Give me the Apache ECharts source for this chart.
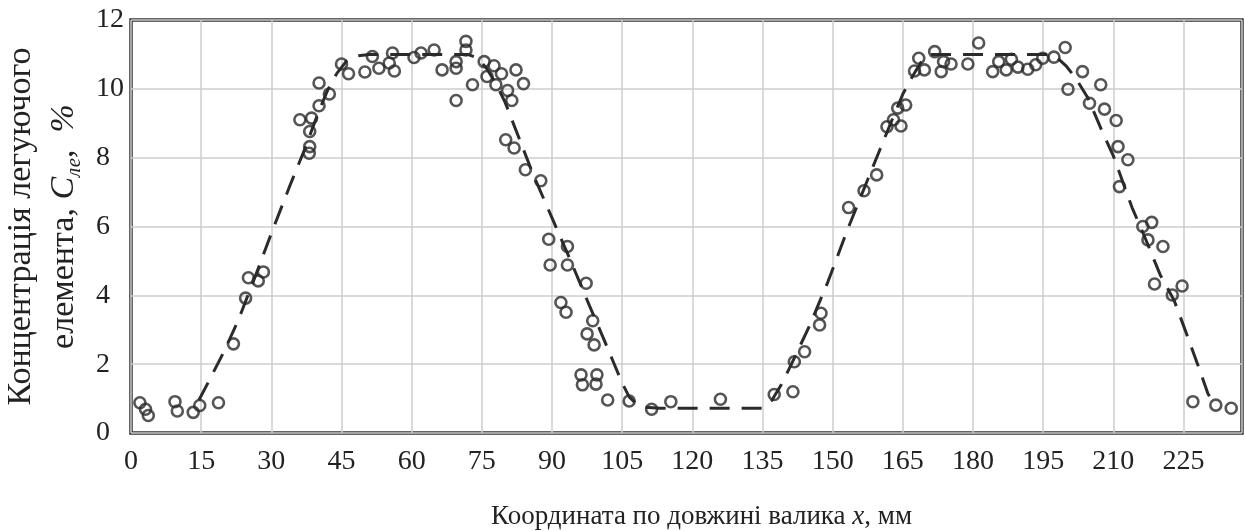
<!DOCTYPE html>
<html>
<head>
<meta charset="utf-8">
<script src="https://cdn.jsdelivr.net/npm/echarts@6/dist/echarts.min.js"></script>
<style>
  html, body { margin: 0; padding: 0; background: #fff; }
  #chart { width: 1245px; height: 531px; }
</style>
</head>
<body>
<div id="chart"></div>
<script>
// measured points, x in mm, y in %
var pointX = [1.9, 3.1, 3.7, 9.4, 9.9, 13.3, 14.7, 18.7,
    21.9, 24.5, 25.1, 27.2, 28.3,
    36.1, 38.6, 38.2, 38.2, 38.1, 40.2, 40.2, 42.4,
    45.0, 46.5, 50.0, 51.6, 53.0, 55.2, 55.9, 56.3, 60.5, 62.0, 64.8, 66.5, 69.5, 69.5, 69.5,
    71.6, 71.6, 73.0, 75.5, 76.1, 77.6, 78.0, 79.2, 80.5, 81.4, 82.3, 83.9,
    80.1, 81.9, 84.3, 87.6,
    89.3, 89.6, 93.3, 93.3, 97.3, 91.9, 93.0, 98.7, 97.5, 99.0, 96.2, 96.5, 99.6, 99.4,
    101.9, 106.5, 111.3, 115.4, 126.0,
    137.5, 141.5, 141.8, 144.0, 147.2, 147.5, 153.4, 156.7, 159.4,
    161.6, 163.0, 164.6, 163.9, 165.6,
    167.5, 169.6, 168.4, 171.8, 173.2, 173.7, 175.3, 178.9, 181.2, 184.2, 185.5, 187.1,
    188.2, 189.6, 191.7, 193.4, 194.9, 197.3, 199.7,
    200.3, 203.4, 204.9, 207.3, 208.1, 210.6, 211.0, 213.1, 211.3, 218.2, 216.3, 217.4,
    220.6, 218.8, 224.7, 222.6, 227.0, 231.9, 235.2];
var pointY = [0.88, 0.69, 0.51, 0.91, 0.64, 0.60, 0.80, 0.88,
    2.59, 3.92, 4.51, 4.42, 4.68,
    9.10, 9.15, 8.76, 8.32, 8.13, 10.17, 9.51, 9.85,
    10.72, 10.44, 10.49, 10.94, 10.60, 10.75, 11.04, 10.52, 10.91, 11.04, 11.13, 10.55, 10.79, 10.60, 9.66,
    11.38, 11.13, 10.12, 10.79, 10.36, 10.67, 10.12, 10.44, 9.95, 9.66, 10.55, 10.15,
    8.52, 8.28, 7.65, 7.33,
    5.63, 4.88, 5.42, 4.88, 4.35, 3.79, 3.51, 3.26, 2.88, 2.56, 1.69, 1.40, 1.69, 1.42,
    0.96, 0.93, 0.69, 0.91, 0.98,
    1.12, 1.20, 2.07, 2.36, 3.14, 3.48, 6.55, 7.04, 7.50,
    8.90, 9.10, 8.92, 9.44, 9.53,
    10.52, 10.55, 10.89, 11.08, 10.50, 10.79, 10.72, 10.72, 11.33, 10.50, 10.79, 10.55,
    10.86, 10.63, 10.57, 10.70, 10.89, 10.92, 11.20,
    9.99, 10.50, 9.58, 10.12, 9.41, 9.08, 8.32, 7.94, 7.16, 6.12, 6.00, 5.61,
    5.42, 4.33, 4.27, 4.01, 0.91, 0.81, 0.72];

// dashed approximation curve
var fitX = [14.5, 17, 20, 23, 26, 30, 34, 37, 40, 42, 44, 46, 48, 51, 72, 74, 76, 78, 80, 83, 86, 90, 94, 98,
    101, 103, 105, 106.5, 108, 110, 113, 135, 137, 139, 141, 145, 149, 153, 157, 160, 163, 165, 167, 169,
    171, 196, 198, 200, 202, 204.5, 207.5, 210, 212, 214, 217, 220, 223, 225.6, 228.4, 230.2, 231.5];
var fitY = [0.95, 1.6, 2.4, 3.3, 4.35, 5.8, 7.2, 8.2, 9.3, 9.95, 10.45, 10.8, 10.95, 11.0, 11.0, 10.9, 10.6, 10.15, 9.6, 8.55, 7.5, 6.25, 5.0, 3.7,
    2.75, 2.1, 1.45, 1.05, 0.85, 0.75, 0.72, 0.72, 0.95, 1.4, 1.95, 3.1, 4.4, 5.85, 7.2, 8.2, 9.2, 9.85, 10.35, 10.8,
    11.0, 11.0, 10.9, 10.65, 10.3, 9.75, 8.8, 8.05, 7.3, 6.55, 5.6, 4.6, 3.85, 2.9, 1.85, 1.15, 0.85];

var font = 'Liberation Serif';
var ink = '#2b2b2b';

var chart = echarts.init(document.getElementById('chart'));
chart.setOption({
    animation: false,
    grid: {
        left: 131, right: 3, top: 20, bottom: 98,
        containLabel: false,
        outerBoundsMode: 'none',
        show: true,
        borderColor: '#333',
        borderWidth: 3.5
    },
    xAxis: {
        type: 'value',
        min: 0, max: 237.5, interval: 15,
        axisLine: { show: false },
        axisTick: { show: false },
        splitLine: { lineStyle: { color: '#cccccc', width: 1.5 } },
        axisLabel: {
            margin: 15,
            fontFamily: font, fontSize: 28, color: '#222',
            formatter: function (v) { return v % 15 === 0 ? v : ''; }
        },
        name: '{n|Координата по довжині валика }{i|x}{n|, мм}',
        nameLocation: 'middle',
        nameGap: 70,
        nameTextStyle: {
            padding: [0, 0, 0, 30],
            rich: {
                n: { fontFamily: font, fontSize: 27, color: '#222' },
                i: { fontFamily: font, fontSize: 27, fontStyle: 'italic', color: '#222' }
            }
        }
    },
    yAxis: {
        type: 'value',
        min: 0, max: 12, interval: 2,
        axisLine: { show: false },
        axisTick: { show: false },
        splitLine: { lineStyle: { color: '#cccccc', width: 1.5 } },
        axisLabel: { margin: 35, align: 'left', fontFamily: font, fontSize: 28, color: '#222' },
        name: '{n|Концентрація легуючого}\n{n|елемента, }{i|C}{s|ле}{n|,  }{i|%}',
        nameLocation: 'middle',
        nameRotate: 90,
        nameGap: 28,
        nameTextStyle: {
            rich: {
                n: { fontFamily: font, fontSize: 34, lineHeight: 43, color: '#222' },
                i: { fontFamily: font, fontSize: 34, lineHeight: 43, fontStyle: 'italic', color: '#222' },
                s: { fontFamily: font, fontSize: 21, lineHeight: 24, fontStyle: 'italic', color: '#222', verticalAlign: 'bottom' }
            }
        }
    },
    series: [{
        type: 'line',
        data: fitX.map(function (x, i) { return [x, fitY[i]]; }),
        showSymbol: false,
        lineStyle: { color: ink, width: 3, type: [20, 12] },
        z: 2
    }, {
        type: 'scatter',
        data: pointX.map(function (x, i) { return [x, pointY[i]]; }),
        symbol: 'circle',
        symbolSize: 11,
        itemStyle: { color: 'rgba(0,0,0,0)', borderColor: ink, borderWidth: 2.6 },
        z: 3
    }]
});
</script>
</body>
</html>
